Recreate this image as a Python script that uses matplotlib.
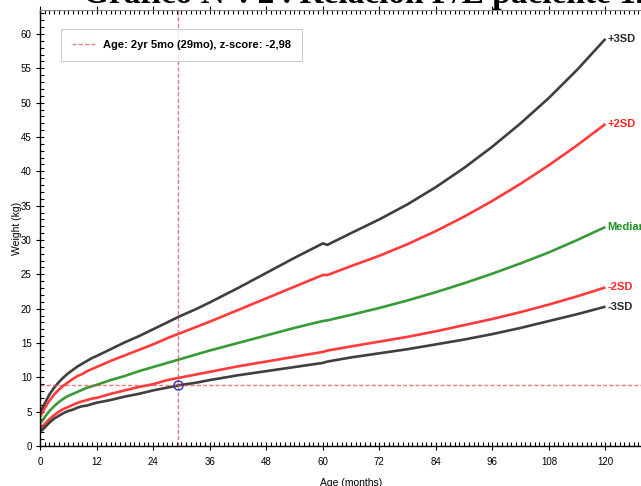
import numpy as np
import matplotlib.pyplot as plt
from matplotlib.ticker import MultipleLocator

# WHO weight-for-age, girls: 0-60 months (standard) and 61-120 months (reference)
months_a = [0, 1, 2, 3, 4, 5, 6, 7, 8, 9, 10, 11, 12, 15, 18, 21, 24, 27, 30, 33, 36,
            42, 48, 54, 60]
sd_m3_a = [2.0, 2.7, 3.4, 4.0, 4.4, 4.8, 5.1, 5.3, 5.6, 5.8, 5.9, 6.1, 6.3, 6.7, 7.2,
           7.6, 8.1, 8.5, 8.9, 9.2, 9.6, 10.3, 10.9, 11.5, 12.1]
sd_m2_a = [2.4, 3.2, 3.9, 4.5, 5.0, 5.4, 5.7, 6.0, 6.3, 6.5, 6.7, 6.9, 7.0, 7.6, 8.1,
           8.6, 9.0, 9.6, 10.0, 10.4, 10.8, 11.6, 12.3, 13.0, 13.7]
median_a = [3.2, 4.2, 5.1, 5.8, 6.4, 6.9, 7.3, 7.6, 7.9, 8.2, 8.5, 8.7, 8.9, 9.6, 10.2,
            10.9, 11.5, 12.1, 12.7, 13.3, 13.9, 15.0, 16.1, 17.2, 18.2]
sd_p2_a = [4.2, 5.5, 6.6, 7.5, 8.2, 8.8, 9.3, 9.8, 10.2, 10.5, 10.9, 11.2, 11.5, 12.4, 13.2,
           14.0, 14.8, 15.7, 16.5, 17.3, 18.1, 19.8, 21.5, 23.2, 24.9]
sd_p3_a = [4.8, 6.2, 7.5, 8.5, 9.3, 10.0, 10.6, 11.1, 11.6, 12.0, 12.4, 12.8, 13.1, 14.1, 15.1,
           16.0, 17.0, 18.0, 19.0, 19.9, 20.9, 23.0, 25.2, 27.4, 29.5]

months_b = [61, 66, 72, 78, 84, 90, 96, 102, 108, 114, 120]
sd_m3_b = [12.3, 12.9, 13.5, 14.1, 14.8, 15.5, 16.3, 17.2, 18.2, 19.2, 20.3]
sd_m2_b = [13.9, 14.5, 15.2, 15.9, 16.7, 17.6, 18.5, 19.5, 20.6, 21.8, 23.1]
median_b = [18.3, 19.1, 20.1, 21.2, 22.4, 23.7, 25.1, 26.6, 28.2, 30.0, 31.9]
sd_p2_b = [24.9, 26.2, 27.7, 29.4, 31.3, 33.4, 35.7, 38.2, 40.9, 43.8, 46.9]
sd_p3_b = [29.3, 31.0, 33.0, 35.2, 37.7, 40.5, 43.6, 47.0, 50.7, 54.8, 59.3]

curve_names = ['+3SD', '+2SD', 'Median', '-2SD', '-3SD']
curve_colors = ['#2a2a2a', '#ff2525', '#229022', '#ff2525', '#2a2a2a']
curves_a = [sd_p3_a, sd_p2_a, median_a, sd_m2_a, sd_m3_a]
curves_b = [sd_p3_b, sd_p2_b, median_b, sd_m2_b, sd_m3_b]

patient_age = 29.3
patient_weight = 8.9
legend_text = 'Age: 2yr 5mo (29mo), z-score: -2,98'
title_text = 'Gráfico N°: 2 . Relación P/E paciente 12'

sans = ['Liberation Sans', 'DejaVu Sans']
plt.rcParams['font.family'] = sans

fig = plt.figure(figsize=(6.41, 4.86), dpi=100)
ax = fig.add_axes([40 / 641, 40 / 486, 622 / 641, 436 / 486])

# both growth tables joined into one line each (small step at 60/61 months)
for ya, yb, c, name in zip(curves_a, curves_b, curve_colors, curve_names):
    ax.plot(months_a + months_b, ya + yb, color=c, lw=1.9, alpha=0.9,
            solid_capstyle='butt', solid_joinstyle='miter')
    ax.text(months_b[-1] + 0.4, yb[-1], name, color=c, fontsize=8, fontweight='bold',
            va='center', ha='left')

ax.axvline(patient_age, color='#e05050', lw=1, ls=(0, (3, 1.5)), alpha=0.75,
           label=legend_text)
ax.axhline(patient_weight, color='#e05050', lw=1, ls=(0, (3, 1.5)), alpha=0.75)
ax.plot([patient_age], [patient_weight], 'o', mfc='none', mec='#3030c0', ms=6.5, mew=1)

ax.set_xlim(0, 132)
ax.set_ylim(0, 63.5)
ax.xaxis.set_major_locator(MultipleLocator(12))
ax.xaxis.set_minor_locator(MultipleLocator(1))
ax.yaxis.set_major_locator(MultipleLocator(5))
ax.yaxis.set_minor_locator(MultipleLocator(1))
ax.tick_params(which='both', top=True, labeltop=False, right=False, labelsize=7,
               direction='in', width=0.8, colors='black')
ax.tick_params(which='major', length=6, direction='inout', pad=3)
ax.tick_params(which='minor', length=3)
ax.tick_params(axis='x', which='major', pad=5)
ax.spines['right'].set_visible(False)
ax.spines['top'].set_color('#888888')
for s in ('left', 'bottom'):
    ax.spines[s].set_linewidth(1)

ax.set_xlabel('Age (months)', fontsize=7.5, labelpad=8)
ax.set_ylabel('Weight (kg)', fontsize=7.5, labelpad=-1)

leg = ax.legend(loc='upper left', fancybox=False, edgecolor='#c0c0c0',
                handlelength=2.2, borderpad=1.0, handletextpad=0.6,
                bbox_to_anchor=(15 / 622, 1 - 13 / 436),
                prop={'weight': 'bold', 'size': 8})
leg.get_frame().set_linewidth(0.8)

fig.text(0.573, 1 - 3 / 486, title_text, ha='center', va='baseline', fontsize=24,
         fontweight='bold', family=['Liberation Serif', 'DejaVu Serif'])

fig.savefig('out.png', dpi=100)
